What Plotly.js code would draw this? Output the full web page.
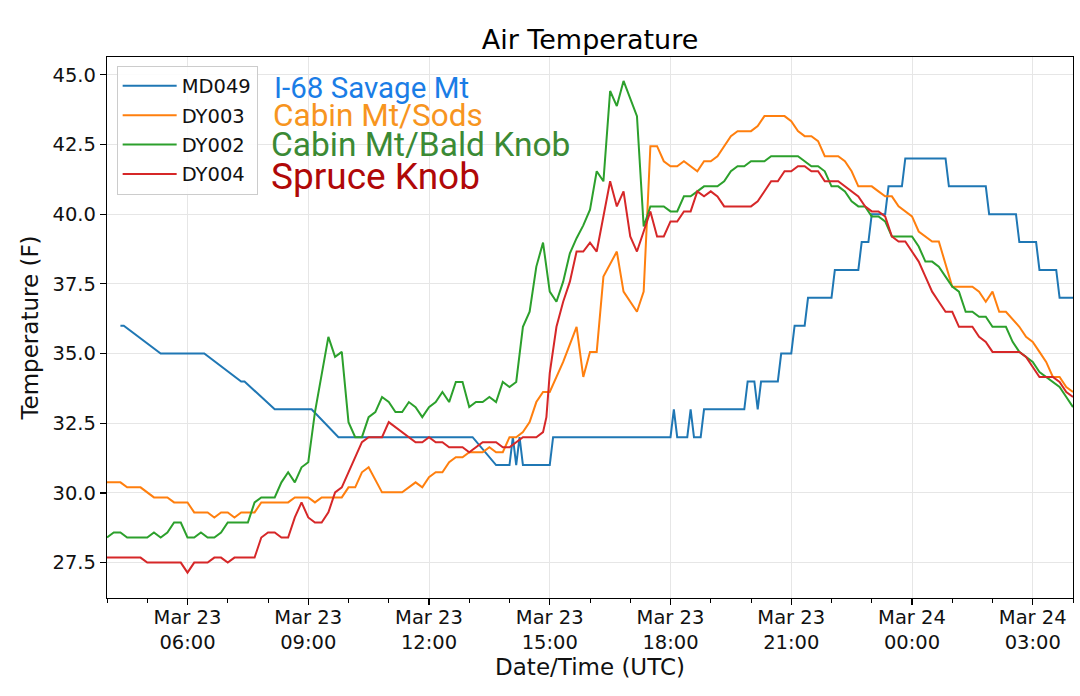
<!DOCTYPE html>
<html>
<head>
<meta charset="utf-8">
<script src="https://cdn.plot.ly/plotly-3.0.1.min.js"></script>
<style>
html,body{margin:0;padding:0;background:#fff;}
#chart{width:1080px;height:696px;}
</style>
</head>
<body>
<div id="chart"></div>
<script>
// ---- Data (day-of-March + UTC time, temperature in °F) ----
const md049Times = ["23 04:20","23 04:25","23 05:20","23 06:25","23 07:20","23 07:25","23 08:10","23 09:05","23 09:45","23 13:05","23 13:40","23 14:00","23 14:05","23 14:10","23 14:15","23 14:20","23 15:00","23 15:05","23 18:00","23 18:05","23 18:10","23 18:25","23 18:30","23 18:35","23 18:45","23 18:50","23 19:50","23 19:55","23 20:05","23 20:10","23 20:15","23 20:40","23 20:45","23 21:00","23 21:05","23 21:20","23 21:25","23 22:00","23 22:05","23 22:40","23 22:45","23 22:55","23 23:00","23 23:20","23 23:25","23 23:45","23 23:50","24 00:50","24 00:55","24 01:50","24 01:55","24 02:35","24 02:40","24 03:05","24 03:10","24 03:35","24 03:40","24 04:00"];
const md049Temps = [36,36,35,35,34,34,33,33,32,32,31,31,32,31,32,31,31,32,32,33,32,32,33,32,32,33,33,34,34,33,34,34,35,35,36,36,37,37,38,38,39,39,40,40,41,41,42,42,41,41,40,40,39,39,38,38,37,37];

const dy003Times = ["23 04:00","23 04:20","23 04:30","23 04:50","23 05:10","23 05:30","23 05:40","23 06:00","23 06:10","23 06:30","23 06:40","23 06:50","23 07:00","23 07:10","23 07:20","23 07:40","23 07:50","23 08:30","23 08:40","23 09:00","23 09:10","23 09:20","23 09:50","23 10:00","23 10:10","23 10:20","23 10:30","23 10:50","23 11:20","23 11:40","23 11:50","23 12:00","23 12:10","23 12:20","23 12:30","23 12:40","23 12:50","23 13:00","23 13:20","23 13:30","23 13:40","23 13:50","23 14:00","23 14:10","23 14:20","23 14:30","23 14:40","23 14:50","23 15:00","23 15:20","23 15:40","23 15:50","23 16:00","23 16:10","23 16:20","23 16:30","23 16:40","23 16:50","23 17:10","23 17:20","23 17:30","23 17:40","23 17:50","23 18:00","23 18:10","23 18:20","23 18:30","23 18:40","23 18:50","23 19:00","23 19:10","23 19:20","23 19:30","23 19:40","23 20:00","23 20:10","23 20:20","23 20:50","23 21:00","23 21:10","23 21:20","23 21:30","23 21:40","23 21:50","23 22:10","23 22:20","23 22:30","23 22:40","23 23:00","23 23:10","23 23:20","23 23:30","23 23:40","24 00:00","24 00:10","24 00:30","24 00:40","24 01:00","24 01:30","24 01:40","24 01:50","24 02:00","24 02:10","24 02:20","24 02:40","24 02:50","24 03:00","24 03:10","24 03:20","24 03:30","24 03:40","24 03:50","24 04:00"];
const dy003Temps = [30.38,30.38,30.2,30.2,29.84,29.84,29.66,29.66,29.3,29.3,29.12,29.3,29.3,29.12,29.3,29.3,29.66,29.66,29.84,29.84,29.66,29.84,29.84,30.2,30.2,30.74,30.92,30.02,30.02,30.38,30.2,30.56,30.74,30.74,31.1,31.28,31.28,31.46,31.46,31.64,31.46,31.46,32.0,32.0,32.18,32.54,33.26,33.62,33.62,34.7,35.96,34.16,35.06,35.06,37.76,38.2,38.66,37.22,36.5,37.22,42.44,42.44,41.9,41.72,41.72,41.9,41.72,41.54,41.9,41.9,42.08,42.44,42.8,42.98,42.98,43.16,43.52,43.52,43.34,42.98,42.8,42.8,42.62,42.08,42.08,41.9,41.54,41.0,41.0,40.82,40.64,40.64,40.28,39.92,39.38,39.02,39.02,37.4,37.4,37.22,36.86,37.22,36.5,36.5,35.96,35.6,35.42,35.06,34.7,34.16,34.16,33.8,33.62];

const dy002Times = ["23 04:00","23 04:10","23 04:20","23 04:30","23 05:00","23 05:10","23 05:20","23 05:30","23 05:40","23 05:50","23 06:00","23 06:10","23 06:20","23 06:30","23 06:40","23 06:50","23 07:00","23 07:30","23 07:40","23 07:50","23 08:10","23 08:20","23 08:30","23 08:40","23 08:50","23 09:00","23 09:10","23 09:20","23 09:30","23 09:40","23 09:50","23 10:00","23 10:10","23 10:20","23 10:30","23 10:40","23 10:50","23 11:00","23 11:10","23 11:20","23 11:30","23 11:40","23 11:50","23 12:00","23 12:10","23 12:20","23 12:30","23 12:40","23 12:50","23 13:00","23 13:10","23 13:20","23 13:30","23 13:40","23 13:50","23 14:00","23 14:10","23 14:20","23 14:30","23 14:40","23 14:50","23 15:00","23 15:10","23 15:20","23 15:30","23 15:40","23 15:50","23 16:00","23 16:10","23 16:20","23 16:30","23 16:40","23 16:50","23 17:10","23 17:20","23 17:30","23 17:50","23 18:00","23 18:10","23 18:20","23 18:30","23 18:40","23 18:50","23 19:10","23 19:20","23 19:30","23 19:40","23 19:50","23 20:00","23 20:20","23 20:30","23 21:10","23 21:20","23 21:30","23 21:40","23 21:50","23 22:00","23 22:10","23 22:20","23 22:30","23 22:40","23 22:50","23 23:00","23 23:10","23 23:20","23 23:30","23 23:40","24 00:00","24 00:10","24 00:20","24 00:30","24 00:40","24 00:50","24 01:00","24 01:10","24 01:20","24 01:30","24 01:40","24 01:50","24 02:00","24 02:20","24 02:30","24 02:40","24 02:50","24 03:00","24 03:10","24 03:20","24 03:30","24 03:40","24 03:50","24 04:00"];
const dy002Temps = [28.4,28.58,28.58,28.4,28.4,28.58,28.4,28.58,28.94,28.94,28.4,28.4,28.58,28.4,28.4,28.58,28.94,28.94,29.66,29.84,29.84,30.38,30.74,30.38,30.92,31.1,32.9,34.3,35.6,34.88,35.06,32.54,32.0,32.0,32.72,32.9,33.44,33.26,32.9,32.9,33.26,33.08,32.72,33.08,33.26,33.62,33.26,33.98,33.98,33.08,33.26,33.26,33.44,33.26,33.98,33.8,33.98,35.96,36.5,38.12,38.98,37.22,36.86,37.58,38.6,39.14,39.6,40.16,41.54,41.18,44.42,43.88,44.78,43.52,39.56,40.28,40.28,40.1,40.1,40.64,40.64,40.82,41.0,41.0,41.18,41.54,41.72,41.72,41.9,41.9,42.08,42.08,41.9,41.72,41.72,41.54,41.0,41.0,40.82,40.46,40.28,40.28,39.92,39.92,39.74,39.2,39.2,39.2,38.84,38.3,38.3,38.12,37.76,37.4,37.22,36.5,36.5,36.32,36.32,35.96,35.96,35.42,35.06,34.88,34.7,34.34,34.16,33.98,33.8,33.44,33.08];

const dy004Times = ["23 04:00","23 04:50","23 05:00","23 05:50","23 06:00","23 06:10","23 06:30","23 06:40","23 06:50","23 07:00","23 07:10","23 07:40","23 07:50","23 08:00","23 08:10","23 08:20","23 08:30","23 08:40","23 08:50","23 09:00","23 09:10","23 09:20","23 09:30","23 09:40","23 09:50","23 10:00","23 10:10","23 10:20","23 10:30","23 10:50","23 11:00","23 11:10","23 11:20","23 11:30","23 11:40","23 11:50","23 12:00","23 12:10","23 12:20","23 12:30","23 12:50","23 13:00","23 13:10","23 13:20","23 13:40","23 13:50","23 14:00","23 14:10","23 14:20","23 14:40","23 14:50","23 14:55","23 15:00","23 15:10","23 15:20","23 15:30","23 15:40","23 15:50","23 16:00","23 16:10","23 16:20","23 16:30","23 16:40","23 16:50","23 17:00","23 17:10","23 17:20","23 17:30","23 17:40","23 17:50","23 18:00","23 18:10","23 18:20","23 18:30","23 18:40","23 18:50","23 19:00","23 19:10","23 19:20","23 20:00","23 20:10","23 20:20","23 20:30","23 20:40","23 20:50","23 21:00","23 21:10","23 21:20","23 21:30","23 21:40","23 21:50","23 22:10","23 22:20","23 22:30","23 22:40","23 22:50","23 23:00","23 23:10","23 23:20","23 23:30","23 23:40","23 23:50","24 00:00","24 00:10","24 00:20","24 00:30","24 00:40","24 00:50","24 01:00","24 01:10","24 01:30","24 01:40","24 01:50","24 02:00","24 02:40","24 02:50","24 03:00","24 03:10","24 03:30","24 03:40","24 03:50","24 04:00"];
const dy004Temps = [27.68,27.68,27.5,27.5,27.14,27.5,27.5,27.68,27.68,27.5,27.68,27.68,28.4,28.58,28.58,28.4,28.4,29.12,29.66,29.12,28.94,28.94,29.3,30.02,30.2,30.74,31.28,31.82,32.0,32.0,32.54,32.36,32.18,32.0,31.82,31.82,32.0,31.82,31.82,31.64,31.64,31.46,31.64,31.82,31.82,31.64,31.64,31.82,32.0,32.0,32.18,32.72,34.3,35.96,36.86,37.58,38.66,38.66,38.98,38.66,39.92,41.18,40.28,40.82,39.2,38.66,39.38,40.1,39.2,39.2,39.74,39.74,40.1,40.1,40.82,40.64,40.82,40.64,40.28,40.28,40.46,40.82,41.18,41.18,41.54,41.54,41.72,41.72,41.54,41.54,41.18,41.18,41.0,40.82,40.64,40.28,40.1,40.1,39.92,39.2,39.02,39.02,38.66,38.3,37.76,37.22,36.86,36.5,36.5,35.96,35.96,35.6,35.42,35.06,35.06,34.88,34.52,34.16,34.16,33.98,33.62,33.44];

const seriesNames = ["MD049","DY003","DY002","DY004"];
const seriesColors = ["#1f77b4","#ff7f0e","#2ca02c","#d62728"];
const stationLabels = ["I-68 Savage Mt","Cabin Mt/Sods","Cabin Mt/Bald Knob","Spruce Knob"];
const stationColors = ["#1a7de6","#f7951f","#3b8a35","#b00808"];

const xTickVals = ["23 06:00","23 09:00","23 12:00","23 15:00","23 18:00","23 21:00","24 00:00","24 03:00"];
const xTickText = ["Mar 23<br>06:00","Mar 23<br>09:00","Mar 23<br>12:00","Mar 23<br>15:00","Mar 23<br>18:00","Mar 23<br>21:00","Mar 24<br>00:00","Mar 24<br>03:00"];
const xRange = ["23 04:00","24 04:00"];
const yRange = [26.23, 45.64];
const yTickVals = [27.5,30.0,32.5,35.0,37.5,40.0,42.5,45.0];

// ---- Helpers ----
const toDate = s => "2019-03-" + s;
const allTimes = [md049Times, dy003Times, dy002Times, dy004Times];
const allTemps = [md049Temps, dy003Temps, dy002Temps, dy004Temps];

const traces = seriesNames.map((name, i) => ({
  type: "scatter",
  mode: "lines",
  name: name,
  legendgroup: "g" + i,
  x: allTimes[i].map(toDate),
  y: allTemps[i],
  line: {color: seriesColors[i], width: 2},
  hoverinfo: "skip"
}));

const FONT = "DejaVu Sans, Liberation Sans, sans-serif";

const annPos = [
  {x: 0.1705, y: 0.942, size: 29.5},
  {x: 0.1695, y: 0.892, size: 31.5},
  {x: 0.1672, y: 0.838, size: 33.5},
  {x: 0.1672, y: 0.780, size: 37}
];

const annotations = stationLabels.map((t, i) => ({
  text: t,
  xref: "paper", yref: "paper",
  x: annPos[i].x, y: annPos[i].y,
  xanchor: "left", yanchor: "middle",
  showarrow: false,
  font: {family: "Roboto, Noto Sans, sans-serif", size: annPos[i].size, color: stationColors[i]}
}));

const layout = {
  width: 1080, height: 696,
  paper_bgcolor: "#ffffff",
  plot_bgcolor: "#ffffff",
  margin: {l: 107, r: 7, t: 57, b: 98},
  showlegend: true,
  title: {
    text: "Air Temperature",
    font: {family: FONT, size: 27, color: "#000"},
    x: 0.5, xref: "paper",
    y: 1 - 40/696, yref: "container", yanchor: "middle"
  },
  xaxis: {
    type: "date",
    range: xRange.map(toDate),
    tickmode: "array",
    tickvals: xTickVals.map(toDate),
    ticktext: xTickText,
    ticks: "outside", ticklen: 6, tickwidth: 1.2, tickcolor: "#000",
    ticklabelstandoff: -5,
    tickfont: {family: FONT, size: 19.5, color: "#111"},
    showgrid: true, gridcolor: "#e6e6e6", gridwidth: 1,
    showline: true, linecolor: "#000", linewidth: 1.2, mirror: true,
    zeroline: false,
    minor: {dtick: 3600000, ticks: "outside", ticklen: 3.5, tickwidth: 1, tickcolor: "#000", showgrid: false},
    title: {text: "Date/Time (UTC)", font: {family: FONT, size: 23, color: "#111"}, standoff: 0}
  },
  yaxis: {
    range: yRange,
    tickmode: "array",
    tickvals: yTickVals,
    tickformat: ".1f",
    ticks: "outside", ticklen: 6, tickwidth: 1.2, tickcolor: "#000",
    tickfont: {family: FONT, size: 19.5, color: "#111"},
    showgrid: true, gridcolor: "#e6e6e6", gridwidth: 1,
    showline: true, linecolor: "#000", linewidth: 1.2, mirror: true,
    zeroline: false,
    title: {text: "Temperature (F)", font: {family: FONT, size: 23, color: "#111"}, standoff: 7}
  },
  legend: {
    x: 0.010, y: 0.984, xanchor: "left", yanchor: "top",
    bgcolor: "rgba(255,255,255,0.85)",
    bordercolor: "#cccccc", borderwidth: 1,
    font: {family: FONT, size: 19.5, color: "#111"},
    traceorder: "grouped",
    tracegroupgap: 1,
    itemwidth: 54
  },
  annotations: annotations
};

Plotly.newPlot("chart", traces, layout, {staticPlot: true, displayModeBar: false});
</script>
</body>
</html>
